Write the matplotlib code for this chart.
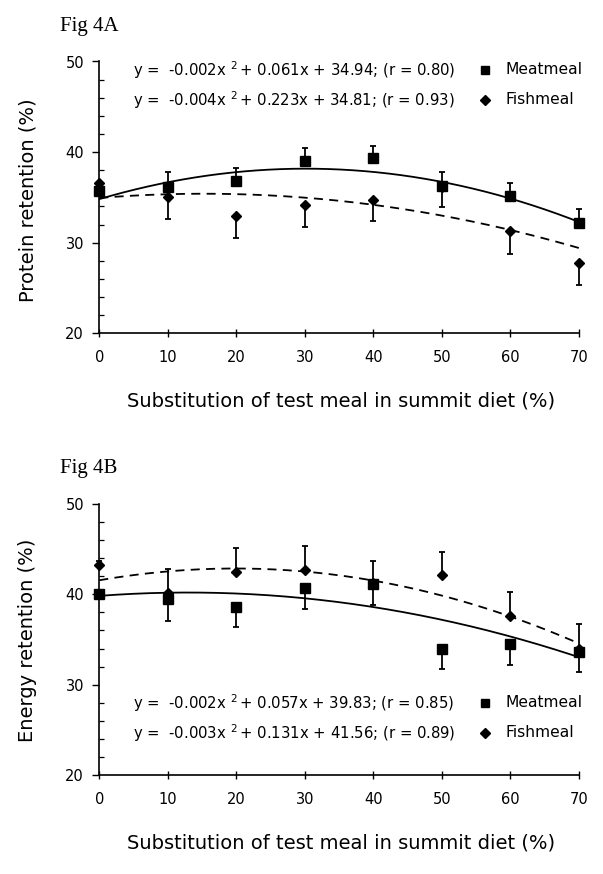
import numpy as np
import matplotlib
matplotlib.use("Agg")
import matplotlib.pyplot as plt
from matplotlib.ticker import MultipleLocator

plt.rcParams['font.family'] = ['DejaVu Sans']
plt.rcParams['mathtext.default'] = 'regular'

# substitution levels of the test meal (%)
levels = [0, 10, 20, 30, 40, 50, 60, 70]

# Fig 4A: protein retention (%), means and SE
prot_meat = [35.7, 36.2, 36.8, 39.0, 39.3, 36.3, 35.1, 32.2]
prot_meat_se = [0.9, 1.55, 1.5, 1.45, 1.4, 1.5, 1.5, 1.5]
prot_fish = [36.6, 35.0, 32.9, 34.2, 34.7, 36.2, 31.3, 27.8]
prot_fish_se = [0.6, 2.4, 2.35, 2.45, 2.3, 2.3, 2.55, 2.5]

# Fig 4B: energy retention (%), means and SE
energy_meat = [40.0, 39.5, 38.6, 40.7, 41.1, 34.0, 34.5, 33.6]
energy_meat_se = [0.5, 2.45, 2.2, 2.3, 2.3, 2.3, 2.35, 2.2]
energy_fish = [43.2, 40.2, 42.5, 42.7, 41.2, 42.1, 37.6, 34.0]
energy_fish_se = [0.5, 2.6, 2.65, 2.7, 2.5, 2.6, 2.65, 2.7]

# quadratic fits (a, b, c, r), one per equation row: meatmeal row, fishmeal row
prot_fits = [(-0.002, 0.061, 34.94, 0.80), (-0.0037, 0.223, 34.81, 0.93)]
prot_styles = ['dashed', 'solid']
energy_fits = [(-0.0022, 0.057, 39.83, 0.85), (-0.0033, 0.131, 41.56, 0.89)]
energy_styles = ['solid', 'dashed']

series_names = ['Meatmeal', 'Fishmeal']
series_markers = ['s', 'D']
series_msize = [6.5, 5.5]

W, H = 603, 874
fig = plt.figure(figsize=(W / 100, H / 100), dpi=100)


def px_axes(left, top, right, bottom):
    return fig.add_axes([left / W, 1 - bottom / H, (right - left) / W, (bottom - top) / H])


def line_style(name):
    return '-' if name == 'solid' else (0, (5, 3.5))


def draw_panel(ax, meat, meat_se, fish, fish_se, fits, styles, meat_up, eq_rows):
    x = np.array(levels)
    zeros = np.zeros(len(x))
    meat_err = [zeros, meat_se] if meat_up else [meat_se, zeros]
    fish_err = [fish_se, zeros] if meat_up else [zeros, fish_se]

    xs = np.linspace(0, 70, 200)
    for (a, b, c, r), st in zip(fits, styles):
        ax.plot(xs, a * xs ** 2 + b * xs + c, color='black', lw=1.3,
                linestyle=line_style(st), zorder=2)

    for vals, err, mk, ms in [(meat, meat_err, 's', 6.5), (fish, fish_err, 'D', 5.5)]:
        ax.errorbar(x, vals, yerr=err, fmt=mk, ms=ms, color='black', ecolor='black',
                    elinewidth=1.3, capsize=2.4, capthick=1.3, clip_on=False, zorder=3)

    # equation rows with legend markers
    for (a, b, c, r), name, mk, ms, ey in zip(fits, series_names, series_markers,
                                               series_msize, eq_rows):
        txt = f"y =  {a:.3f}x $^{{2}}\\,$+ {b:.3f}x + {c:.2f}; (r = {r:.2f})"
        ax.text(0.07, ey, txt, transform=ax.transAxes, fontsize=10.7,
                va='center', ha='left')
        ax.plot([0.804], [ey], marker=mk, ms=ms - 0.5, color='black',
                transform=ax.transAxes, clip_on=False)
        ax.text(0.846, ey, name, transform=ax.transAxes, fontsize=11.2,
                va='center', ha='left')

    ax.set_xlim(0, 70)
    ax.set_ylim(20, 50)
    for s in ['top', 'right']:
        ax.spines[s].set_visible(False)
    for s in ['left', 'bottom']:
        ax.spines[s].set_linewidth(1.2)
    ax.set_xticks(levels)
    ax.set_yticks([20, 30, 40, 50])
    ax.yaxis.set_minor_locator(MultipleLocator(2))
    ax.tick_params(axis='x', which='major', direction='inout', length=6, width=1,
                   pad=9, labelsize=10.5)
    ax.tick_params(axis='y', which='major', direction='out', length=5, width=1,
                   pad=6, labelsize=10.5)
    ax.tick_params(axis='y', which='minor', direction='in', length=3.5, width=0.9)


ax_a = px_axes(99.3, 61.5, 579, 333.3)
draw_panel(ax_a, prot_meat, prot_meat_se, prot_fish, prot_fish_se,
           prot_fits, prot_styles, True, [0.969, 0.859])

ax_b = px_axes(99.3, 504, 579, 775)
draw_panel(ax_b, energy_meat, energy_meat_se, energy_fish, energy_fish_se,
           energy_fits, energy_styles, False, [0.266, 0.155])

fig.text(60 / W, 1 - 31 / H, 'Fig 4A', family='Liberation Serif', fontsize=15,
         va='baseline', ha='left')
fig.text(60 / W, 1 - 473 / H, 'Fig 4B', family='Liberation Serif', fontsize=15,
         va='baseline', ha='left')

fig.text(28 / W, 1 - 200 / H, 'Protein retention (%)', rotation=90,
         fontsize=14, ha='center', va='center')
fig.text(28 / W, 1 - 640 / H, 'Energy retention (%)', rotation=90,
         fontsize=14, ha='center', va='center')

fig.text(341 / W, 1 - 401 / H, 'Substitution of test meal in summit diet (%)',
         fontsize=14, ha='center', va='center')
fig.text(341 / W, 1 - 843 / H, 'Substitution of test meal in summit diet (%)',
         fontsize=14, ha='center', va='center')

fig.savefig('out.png', dpi=100)
